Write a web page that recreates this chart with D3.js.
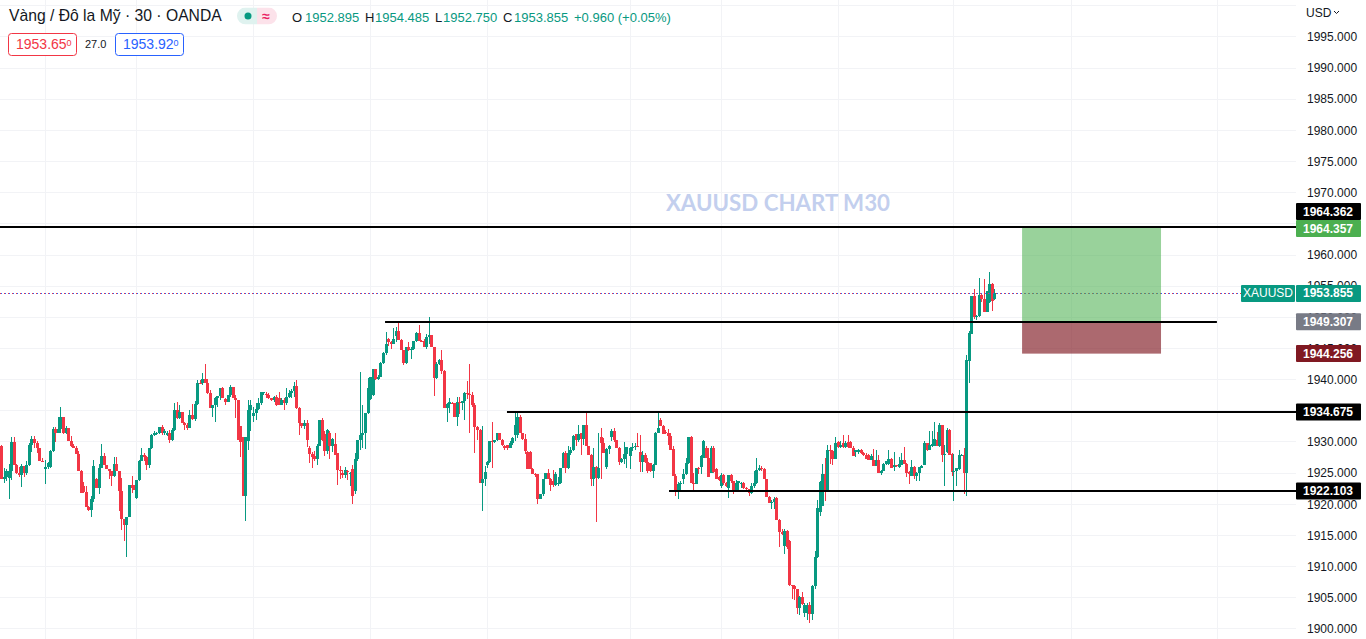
<!DOCTYPE html>
<html>
<head>
    <meta charset="utf-8" />
    <title>XAUUSD chart M30</title>
    <script src="https://cdn.jsdelivr.net/npm/d3@7"></script>
    <style>
        html, body { margin: 0; padding: 0; background: #fff; overflow: hidden; }
        svg { display: block; font-family: "Liberation Sans", Arial, sans-serif; }
    </style>
</head>
<body>
<script>
// bars are [open, high, low, close], one array for each session between two vertical grid lines
var sessionA = [
[1929.2,1929.4,1924.0,1924.0],[1924.0,1925.8,1923.4,1924.3],[1924.3,1925.6,1923.6,1925.2],[1924.2,1926.4,1920.8,1925.2],[1925.2,1930.7,1923.8,1929.9],
[1929.9,1930.7,1926.2,1926.2],[1926.2,1926.4,1924.8,1925.0],[1925.0,1925.9,1924.3,1924.6],[1924.6,1926.4,1922.7,1926.0],[1926.0,1926.0,1924.3,1924.9],
[1924.9,1926.9,1924.6,1926.2],[1926.2,1929.7,1926.0,1929.4],[1929.4,1930.8,1928.3,1930.4],[1930.4,1930.9,1929.0,1929.7],[1929.7,1930.1,1928.1,1928.9],
[1928.9,1928.9,1926.8,1926.8],[1926.8,1927.4,1926.7,1926.7]];
var sessionB = [
[1925.6,1927.1,1923.2,1925.9],[1925.9,1926.7,1925.6,1926.6],[1925.9,1928.6,1925.7,1928.4],[1928.4,1932.3,1928.3,1932.0],[1932.0,1932.3,1929.9,1931.3],[1931.3,1934.0,1931.3,1932.0],
[1932.0,1935.5,1931.3,1933.9],[1933.9,1933.9,1931.2,1931.3],[1931.3,1932.4,1931.2,1932.1],[1932.1,1932.1,1930.1,1930.1],[1930.1,1930.8,1929.1,1929.2],
[1929.2,1929.6,1928.9,1929.0],[1929.0,1929.3,1928.0,1928.0],[1928.0,1928.4,1925.2,1925.2],[1925.2,1925.4,1921.8,1921.8],[1922.9,1923.5,1921.7,1921.9],
[1921.9,1922.8,1919.5,1919.5],[1919.5,1919.7,1918.8,1919.0],[1919.0,1921.2,1917.9,1920.8],[1920.8,1927.0,1920.3,1926.1],[1924.0,1924.2,1922.6,1922.6],
[1922.6,1926.4,1921.6,1925.8],[1925.8,1929.6,1925.7,1927.7],[1927.7,1928.1,1926.2,1926.2],[1926.2,1926.2,1925.5,1925.5],[1925.5,1925.6,1924.0,1925.3],
[1925.3,1925.3,1922.8,1924.4],[1924.4,1927.5,1924.3,1926.4],[1926.4,1927.5,1925.2,1925.2],[1925.2,1925.2,1918.8,1922.1],[1922.1,1924.1,1915.8,1917.5],
[1917.5,1917.6,1914.1,1916.6],[1916.6,1917.8,1911.5,1917.8],[1917.8,1923.0,1917.8,1923.0],[1923.0,1924.4,1921.7,1922.5],[1922.5,1923.0,1922.2,1922.2]];
var sessionC = [
[1920.9,1923.8,1920.8,1923.8],[1923.8,1927.1,1923.6,1926.9],[1926.9,1928.9,1926.8,1927.8],[1927.8,1928.2,1926.8,1927.5],[1927.5,1927.7,1925.4,1926.2],
[1926.2,1928.9,1925.7,1928.9],[1928.9,1931.2,1928.8,1931.0],[1931.0,1931.7,1930.9,1931.3],[1931.3,1931.5,1931.1,1931.4],[1931.4,1932.3,1931.2,1932.3],
[1932.3,1932.7,1931.0,1931.3],[1931.3,1932.0,1931.1,1931.6],[1931.1,1931.6,1930.8,1931.3],[1931.3,1931.8,1929.8,1930.2],[1930.2,1932.1,1930.0,1931.8],
[1931.8,1936.1,1931.6,1935.0],[1935.0,1936.4,1933.6,1933.7],[1933.7,1935.9,1933.6,1934.7],[1934.7,1934.7,1932.9,1933.0],[1933.0,1933.1,1931.8,1932.6],
[1932.6,1933.0,1931.9,1932.2],[1932.2,1935.1,1932.1,1934.2],[1934.2,1936.0,1933.5,1933.6],[1933.6,1936.5,1933.3,1936.0],[1936.0,1939.8,1935.8,1939.4],
[1939.4,1939.8,1939.3,1939.3],[1939.3,1941.0,1939.1,1940.1],[1940.1,1942.5,1939.3,1939.4],[1939.4,1940.0,1937.6,1937.7],[1937.7,1938.2,1935.4,1935.4],
[1935.4,1935.9,1933.9,1935.8],[1935.8,1937.1,1933.2,1937.0],[1937.0,1937.3,1935.5,1937.3],[1937.3,1938.5,1936.6,1938.6],[1938.6,1938.7,1936.9,1936.9],
[1936.8,1937.0,1935.8,1936.3],[1936.3,1937.4,1936.3,1937.4],[1937.4,1939.0,1937.2,1938.7],[1938.7,1938.7,1936.9,1936.9],[1936.9,1937.5,1933.8,1936.6],
[1936.6,1936.7,1930.3,1930.3],[1932.4,1932.4,1927.5,1929.9],[1930.7,1930.7,1921.3,1921.3],[1921.3,1930.7,1917.2,1930.7],[1930.0,1936.6,1928.6,1935.0],
[1935.0,1936.6,1931.6,1935.8]];
var sessionD = [
[1934.1,1935.6,1933.2,1934.6],[1934.6,1936.1,1933.4,1935.2],[1935.2,1936.9,1935.0,1936.1],[1936.1,1937.7,1935.8,1937.9],[1937.9,1938.0,1937.4,1938.0],
[1937.6,1938.0,1936.9,1937.5],[1937.5,1937.7,1936.8,1936.9],[1936.9,1937.0,1936.5,1936.7],[1936.7,1937.3,1936.4,1937.2],[1937.2,1937.5,1935.7,1935.9],
[1936.9,1938.0,1935.8,1935.9],[1935.9,1937.0,1935.8,1936.6],[1936.6,1936.9,1935.0,1936.1],[1936.1,1938.5,1935.8,1937.2],[1937.2,1938.2,1936.9,1937.7],
[1937.7,1938.4,1936.9,1938.1],[1938.1,1939.5,1937.2,1938.9],[1938.9,1939.8,1935.2,1935.4],[1935.4,1935.6,1931.1,1932.9],[1932.9,1933.0,1932.2,1932.4],
[1932.4,1933.4,1932.0,1932.9],[1932.9,1933.4,1929.1,1930.3],[1929.0,1929.3,1926.5,1928.0],[1928.0,1928.3,1925.7,1927.5],[1927.6,1928.4,1926.9,1927.2],
[1927.2,1929.6,1926.3,1929.3],[1929.3,1933.4,1929.2,1933.4],[1933.4,1933.8,1930.1,1930.2],[1931.2,1931.7,1927.6,1928.5],[1928.4,1932.0,1928.0,1931.8],
[1931.3,1931.6,1927.2,1929.2],[1929.2,1930.5,1928.3,1930.4],[1929.6,1931.3,1927.8,1927.9],[1928.1,1928.2,1923.0,1925.4],[1925.4,1926.0,1924.0,1925.3],
[1925.0,1925.4,1924.2,1924.6],[1924.6,1925.9,1924.2,1925.4],[1925.2,1925.4,1923.8,1925.1],[1924.9,1925.1,1922.8,1924.9],[1925.5,1926.3,1920.0,1921.2],
[1922.1,1928.2,1921.5,1927.2],[1927.2,1930.3,1926.9,1930.3],[1930.3,1941.1,1928.6,1931.0],[1931.0,1935.9,1929.0,1931.4],[1931.4,1934.5,1928.8,1934.5],
[1934.5,1940.2,1934.4,1938.6]];
var sessionE = [
[1936.8,1938.5,1936.6,1940.3],[1937.5,1941.6,1937.3,1941.6],[1941.6,1941.7,1939.9,1940.1],[1940.1,1940.7,1939.8,1940.4],[1940.4,1942.7,1940.3,1942.6],
[1942.6,1944.4,1942.5,1944.2],[1944.2,1947.5,1943.9,1945.7],[1946.5,1946.6,1945.3,1946.0],[1946.0,1946.2,1944.9,1945.7],[1945.7,1948.2,1945.6,1946.5],
[1946.9,1948.4,1946.0,1947.8],[1947.8,1949.4,1946.3,1946.3],[1946.3,1946.4,1944.7,1944.7],[1944.7,1944.7,1942.2,1942.6],[1942.6,1945.2,1942.4,1945.1],
[1945.1,1945.9,1944.5,1944.6],[1944.6,1945.2,1943.2,1944.8],[1944.8,1946.1,1944.7,1946.1],[1946.1,1947.6,1946.0,1947.4],[1947.4,1948.7,1946.1,1946.2],
[1946.2,1946.3,1946.0,1946.1],[1946.1,1946.4,1945.1,1945.2],[1945.2,1947.2,1944.8,1946.8],[1946.8,1949.9,1945.7,1947.1],[1947.1,1947.1,1945.2,1945.2],
[1945.2,1945.2,1937.3,1940.2],[1940.2,1942.7,1940.1,1942.4],[1942.4,1943.3,1942.3,1943.0],[1943.0,1944.7,1940.8,1941.3],[1941.3,1941.4,1935.3,1935.3],
[1935.3,1936.2,1933.1,1936.0],[1936.0,1937.0,1934.5,1936.3],[1936.2,1936.3,1936.0,1936.1],[1936.1,1936.2,1933.9,1934.0],
[1934.0,1937.2,1932.5,1936.3],[1936.3,1937.1,1934.4,1936.1],[1936.1,1936.5,1935.1,1936.5],[1936.5,1938.0,1933.4,1937.8],[1937.8,1939.7,1936.8,1937.6],
[1937.6,1942.4,1931.3,1937.4],[1937.4,1938.0,1935.5,1935.9],[1935.9,1936.2,1928.2,1932.3],[1932.3,1932.5,1930.3,1931.8],[1931.8,1932.0,1923.4,1923.3],
[1923.3,1932.4,1918.9,1924.0],[1924.0,1926.0,1922.9,1925.1]];
var sessionF = [
[1926.3,1926.8,1925.7,1926.7],[1926.7,1930.0,1926.5,1930.0],[1930.0,1933.1,1925.8,1929.9],[1929.9,1930.3,1929.7,1930.3],[1930.3,1931.3,1930.1,1931.3],
[1931.3,1931.4,1930.3,1930.3],[1930.3,1930.4,1929.2,1929.4],[1929.3,1929.5,1928.6,1929.0],[1929.4,1929.5,1928.6,1928.9],[1929.0,1930.0,1928.9,1929.7],[1929.8,1930.7,1929.5,1930.6],
[1931.0,1934.6,1930.0,1932.6],[1931.1,1934.6,1930.6,1934.0],[1934.0,1934.3,1931.3,1931.3],[1931.3,1931.4,1930.3,1930.4],[1930.4,1931.2,1928.0,1928.5],
[1928.3,1928.4,1925.6,1925.6],[1928.3,1928.4,1925.5,1925.6],[1925.6,1925.7,1924.8,1924.8],[1924.8,1925.0,1924.3,1924.6],[1924.7,1924.8,1920.0,1920.8],
[1920.8,1921.0,1920.7,1921.5],[1921.5,1924.0,1921.3,1924.0],[1924.0,1925.0,1923.9,1924.9],[1924.9,1925.6,1923.9,1924.0],[1924.0,1924.1,1922.1,1923.0],
[1923.6,1925.4,1922.7,1923.0],[1923.0,1925.1,1922.9,1924.7],[1923.3,1924.3,1922.9,1923.4],[1923.4,1925.8,1923.2,1925.8],[1925.8,1928.3,1925.7,1928.2],
[1928.2,1928.5,1925.0,1925.7],[1925.7,1929.2,1925.6,1928.2],[1928.2,1929.1,1927.8,1928.6],[1928.6,1931.1,1928.5,1930.9],[1931.2,1931.2,1929.3,1930.2],
[1930.2,1932.6,1929.9,1931.2],[1931.3,1931.4,1927.8,1930.4],[1930.4,1932.6,1929.4,1932.6],[1932.6,1934.9,1929.4,1929.2],[1929.2,1929.3,1927.9,1927.9],
[1927.9,1928.0,1922.8,1923.9],[1923.9,1928.9,1922.9,1925.9],[1925.9,1926.0,1917.0,1924.2],[1924.2,1931.3,1923.9,1925.8],[1930.7,1932.2,1924.0,1929.8],
[1929.8,1930.6,1929.0,1928.2],[1925.9,1928.9,1925.6,1928.8],[1928.8,1929.4,1928.0,1929.2],[1930.7,1932.0,1930.0,1931.6],
[1931.6,1932.1,1929.9,1930.2],[1930.2,1930.3,1928.9,1929.0],[1929.0,1929.1,1926.2,1926.7],[1926.7,1927.3,1926.5,1927.2],[1927.2,1929.9,1926.4,1928.0],
[1928.0,1929.1,1925.8,1929.1]];
var sessionG = [
[1927.7,1929.1,1925.6,1928.9],[1928.9,1929.7,1928.4,1929.1],[1929.1,1929.8,1928.7,1929.3],[1929.3,1931.4,1929.1,1929.2],[1928.3,1931.1,1925.1,1926.7],
[1926.7,1928.4,1925.1,1927.8],[1927.8,1928.1,1926.6,1926.7],[1926.7,1927.3,1925.0,1925.2],[1926.5,1926.6,1925.1,1925.2],[1925.2,1926.4,1924.2,1926.3],
[1926.3,1931.5,1926.2,1931.4],[1931.4,1934.8,1931.3,1932.1],[1933.4,1933.7,1932.4,1932.5],[1932.5,1932.6,1931.2,1931.2],[1931.5,1931.9,1931.2,1931.3],
[1931.4,1932.0,1929.5,1930.8],[1930.9,1931.3,1928.6,1928.7],[1928.8,1929.3,1924.5,1924.5],[1924.5,1924.7,1921.3,1921.9],[1921.9,1923.5,1920.8,1923.2],
[1923.2,1923.6,1921.9,1923.3],[1924.0,1925.5,1923.2,1924.7],[1924.7,1927.4,1924.6,1926.5],[1926.5,1930.7,1926.4,1930.7],[1930.7,1930.8,1923.3,1923.4],
[1923.4,1925.0,1922.1,1923.2],[1923.2,1925.8,1923.1,1925.8],[1925.8,1925.9,1924.8,1925.6],[1925.9,1927.8,1924.7,1927.6],[1927.4,1930.3,1927.3,1930.0],
[1929.0,1929.2,1927.3,1927.4],[1927.4,1929.0,1924.3,1924.3],[1925.0,1929.2,1924.9,1929.0],[1928.9,1929.2,1925.0,1925.1],[1925.6,1925.8,1923.9,1923.9],
[1924.3,1924.5,1923.7,1923.8]];
var sessionH = [
[1922.9,1925.0,1922.6,1924.6],[1924.6,1924.7,1923.0,1923.4],[1923.4,1923.5,1922.7,1922.8],[1922.6,1924.4,1921.0,1924.6],[1924.6,1924.7,1923.3,1923.6],
[1923.6,1923.7,1921.5,1922.2],[1922.2,1923.8,1922.0,1923.4],[1923.4,1923.7,1922.0,1923.7],[1923.1,1923.5,1922.5,1923.4],[1923.4,1923.5,1922.4,1922.6],
[1922.6,1922.7,1922.2,1922.3],[1922.3,1922.4,1921.2,1921.8],[1921.8,1923.4,1921.5,1922.8],[1922.8,1925.2,1922.6,1923.3],[1923.3,1927.4,1923.2,1925.4],
[1925.4,1926.2,1925.2,1925.8],[1925.8,1926.1,1925.2,1925.6],[1925.6,1925.8,1923.9,1923.9],[1923.9,1924.0,1921.1,1921.1],[1921.1,1921.2,1920.1,1920.1],
[1920.1,1920.6,1919.2,1920.3],[1920.3,1921.1,1919.1,1920.7],[1920.9,1921.1,1917.4,1917.4],[1917.4,1917.5,1913.0,1915.4],[1915.4,1915.9,1915.0,1915.2],
[1913.2,1916.0,1912.0,1915.6],[1915.7,1915.8,1912.8,1913.1],[1914.1,1914.2,1906.8,1906.9],[1906.9,1907.0,1904.7,1906.8],[1906.8,1906.9,1904.5,1906.3],
[1906.3,1906.4,1902.3,1903.2],[1903.2,1905.2,1902.1,1905.0],[1905.0,1905.8,1903.8,1903.9],[1902.4,1904.0,1901.9,1903.8],[1902.4,1904.0,1901.4,1903.8],
[1903.8,1904.2,1900.8,1902.3],[1902.3,1907.0,1901.4,1906.8],[1906.8,1912.5,1906.4,1911.5],[1911.5,1920.6,1911.3,1919.3],[1918.6,1923.6,1918.0,1923.5],
[1919.7,1926.4,1919.6,1924.7],[1924.7,1927.4,1920.5,1922.1],[1922.1,1929.4,1922.0,1928.6],[1928.6,1929.5,1926.4,1928.5],[1928.5,1928.7,1926.3,1927.2],
[1927.2,1930.7,1927.2,1929.8]];
var sessionI = [
[1929.9,1930.0,1929.0,1929.1],[1929.1,1930.0,1929.0,1929.4],[1929.7,1931.1,1929.0,1929.1],[1929.1,1930.0,1928.9,1929.8],[1929.9,1931.0,1928.9,1929.1],
[1929.9,1930.0,1928.9,1928.9],[1928.9,1929.2,1927.6,1927.6],[1928.3,1928.7,1927.5,1928.6],[1928.3,1928.8,1928.0,1928.6],[1928.6,1928.8,1928.0,1928.2],
[1928.2,1928.3,1927.6,1927.8],[1927.9,1928.1,1927.2,1927.2],[1927.8,1928.0,1927.0,1927.0],[1927.1,1928.0,1927.0,1927.6],[1927.1,1928.8,1926.1,1926.1],
[1926.1,1928.6,1926.0,1927.1],[1927.1,1927.8,1925.0,1925.0],[1925.0,1925.4,1924.6,1925.3],[1925.3,1926.5,1925.2,1926.4],[1926.4,1926.9,1926.3,1926.8],
[1926.4,1928.6,1926.3,1927.2],[1927.2,1927.4,1925.7,1925.7],[1925.9,1928.3,1925.2,1926.2],[1926.2,1926.3,1925.9,1926.0],[1925.9,1927.5,1925.8,1926.4],
[1926.3,1928.2,1926.2,1927.0],[1927.0,1929.1,1926.4,1926.4],[1926.4,1926.5,1924.3,1925.0],[1925.1,1925.2,1923.2,1924.8],[1924.5,1927.1,1924.4,1925.9],
[1925.9,1926.0,1924.0,1924.5],[1924.5,1925.1,1923.6,1925.0],[1925.0,1925.9,1923.7,1925.9],[1925.8,1926.2,1925.7,1926.1],[1926.3,1930.1,1926.2,1929.7],
[1929.7,1929.8,1928.5,1928.7],[1928.7,1931.7,1928.6,1929.4],[1929.2,1931.7,1929.1,1929.6],[1929.3,1933.2,1929.2,1930.4],[1930.3,1931.5,1929.2,1929.2],
[1929.2,1933.0,1929.1,1932.6],[1932.6,1932.7,1926.7,1927.9],[1927.9,1929.4,1922.8,1928.0],[1928.3,1932.2,1928.2,1931.9],[1931.9,1932.0,1927.9,1927.9],
[1928.0,1928.1,1924.4,1925.1]];
var sessionJ = [
[1925.1,1928.0,1920.5,1925.3],[1925.3,1925.8,1922.9,1925.8],[1925.5,1928.7,1925.4,1927.8],[1927.8,1928.0,1927.7,1927.9],[1927.9,1928.9,1921.6,1925.0],
[1925.0,1943.9,1921.3,1943.0],[1942.9,1947.8,1939.3,1947.4],[1947.3,1953.4,1947.2,1953.4],[1953.4,1954.5,1949.7,1950.0],[1950.0,1950.3,1949.5,1950.1],
[1950.1,1956.2,1950.0,1953.5],[1953.5,1953.6,1952.4,1952.8],[1952.8,1956.0,1950.7,1950.8],[1950.8,1954.2,1950.7,1954.2],[1952.3,1957.2,1952.2,1955.3],
[1955.3,1955.4,1950.9,1952.5],[1952.895,1954.485,1952.75,1953.855]];

var sessions = [sessionA, sessionB, sessionC, sessionD, sessionE, sessionF, sessionG, sessionH, sessionI, sessionJ];
var sessionStarts = [0, 17.4, 53.2, 99.3, 145.4, 191.2, 247.5, 283.3, 329.4, 375];
var futureBreaks = [421.1, 478.7];

var priceTicks = [1900, 1905, 1910, 1915, 1920, 1925, 1930, 1940, 1945, 1950, 1955, 1960, 1970, 1975, 1980, 1985, 1990, 1995];
var gridPrices = d3.range(1900, 2001, 5);
var lastPrice = 1953.855;
var askText = "1953.65", bidText = "1953.92", spreadText = "27.0";

// drawn levels: price, first bar and last bar (null = runs to the price scale)
var levelPrices = [1964.362, 1949.307, 1934.675, 1922.103];
var levelFrom = [null, 151.2, 199.2, 263];
var levelTo = [null, 478.7, null, null];
var levelColors = ["#000000", "#787b86", "#000000", "#000000"];
var levelNudge = [0, 1, 0, 0];
var levelLabelShift = [-15.8, 0.5, -0.4, 0.3];
var positionBars = [402, 456.7];
var targetPrice = 1964.357, entryPrice = 1949.307, stopPrice = 1944.256;

var width = 1366, height = 639, scaleLeft = 1296;
var upColor = "#089981", downColor = "#f23645";

var x = d3.scaleLinear().domain([0, 391]).range([1, 1 + 391 * 2.54]);
var y = d3.scaleLinear().domain([1900, 1995]).range([628.4, 36.4]);

var svg = d3.select("body").append("svg").attr("width", width).attr("height", height);

// grid
svg.append("g").selectAll("line").data(gridPrices).enter().append("line")
    .attr("x1", 0).attr("x2", scaleLeft)
    .attr("y1", function(d){ return Math.round(y(d)) + 0.5; })
    .attr("y2", function(d){ return Math.round(y(d)) + 0.5; })
    .attr("stroke", "#f2f3f6");
svg.append("g").selectAll("line").data(sessionStarts.slice(1).concat(futureBreaks)).enter().append("line")
    .attr("y1", 0).attr("y2", height)
    .attr("x1", function(d){ return Math.round(x(d)) + 0.5; })
    .attr("x2", function(d){ return Math.round(x(d)) + 0.5; })
    .attr("stroke", "#f2f3f6");

// price axis
var axis = d3.axisRight(y).tickValues(priceTicks).tickSize(0).tickPadding(0)
    .tickFormat(d3.format(".3f"));
var axisG = svg.append("g").attr("transform", "translate(1307,0.4)").call(axis);
axisG.select(".domain").remove();
axisG.selectAll("text").attr("font-size", 12).attr("font-family", "inherit").attr("fill", "#131722");

// watermark
svg.append("text").attr("x", 778).attr("y", 211).attr("text-anchor", "middle")
    .attr("font-family", "Lato, sans-serif").attr("font-weight", 700).attr("font-size", 22.3)
    .attr("fill", "#c3cfee").text("XAUUSD CHART M30");

// candles
var bars = [];
sessions.forEach(function(s, k){
    s.forEach(function(b, j){
        bars.push({i: sessionStarts[k] + j, o: b[0], h: b[1], l: b[2], c: b[3]});
    });
});
var candle = svg.append("g").selectAll("g").data(bars).enter().append("g")
    .attr("fill", function(d){ return d.c >= d.o ? upColor : downColor; })
    .attr("shape-rendering", "crispEdges");
candle.append("rect")
    .attr("x", function(d){ return Math.round(x(d.i)); })
    .attr("width", 1)
    .attr("y", function(d){ return y(Math.max(d.h, d.o, d.c)); })
    .attr("height", function(d){ return y(Math.min(d.l, d.o, d.c)) - y(Math.max(d.h, d.o, d.c)); });
candle.append("rect")
    .attr("x", function(d){ return Math.round(x(d.i)) - 1; })
    .attr("width", 3)
    .attr("y", function(d){ return y(Math.max(d.o, d.c)); })
    .attr("height", function(d){ return Math.max(1, Math.abs(y(d.o) - y(d.c))); });

// last price dotted lines, red dot then blue dot
[["#2962ff", "2 2"], ["#f23645", "1 3"]].forEach(function(p){
    svg.append("line").attr("x1", 0).attr("x2", 1241)
        .attr("y1", Math.round(y(lastPrice)) + 0.5).attr("y2", Math.round(y(lastPrice)) + 0.5)
        .attr("stroke", p[0]).attr("stroke-dasharray", p[1]).attr("shape-rendering", "crispEdges");
});

// long position
svg.append("rect").attr("x", x(positionBars[0])).attr("width", x(positionBars[1]) - x(positionBars[0]))
    .attr("y", y(targetPrice)).attr("height", y(entryPrice) + 1 - y(targetPrice))
    .attr("fill", "#4caf50").attr("fill-opacity", 0.57);
svg.append("rect").attr("x", x(positionBars[0])).attr("width", x(positionBars[1]) - x(positionBars[0]))
    .attr("y", y(entryPrice) + 1).attr("height", y(stopPrice) - y(entryPrice))
    .attr("fill", "#801922").attr("fill-opacity", 0.65);

// levels
svg.append("g").selectAll("line").data(levelPrices).enter().append("line")
    .attr("x1", function(d, i){ return levelFrom[i] === null ? 0 : x(levelFrom[i]); })
    .attr("x2", function(d, i){ return levelTo[i] === null ? scaleLeft : x(levelTo[i]); })
    .attr("y1", function(d, i){ return Math.round(y(d)) + levelNudge[i]; })
    .attr("y2", function(d, i){ return Math.round(y(d)) + levelNudge[i]; })
    .attr("stroke", "#000").attr("stroke-width", 2);

// price scale labels
function priceLabel(price, color, offset) {
    var yy = y(price) + (offset || 0);
    svg.append("rect").attr("x", scaleLeft).attr("width", 65).attr("y", yy - 8.5).attr("height", 17).attr("rx", 1).attr("fill", color);
    svg.append("text").attr("x", 1328).attr("y", yy + 4).attr("text-anchor", "middle")
        .attr("font-size", 12).attr("font-weight", 700).attr("fill", "#fff").text(price.toFixed(3));
}
levelPrices.forEach(function(p, i){ priceLabel(p, levelColors[i], levelLabelShift[i]); });
priceLabel(targetPrice, "#4caf50", 1.2);
priceLabel(stopPrice, "#801922", 1);
priceLabel(lastPrice, upColor, 0.7);
svg.append("rect").attr("x", 1241).attr("width", 54).attr("y", y(lastPrice) - 7.8).attr("height", 17).attr("rx", 1).attr("fill", upColor);
svg.append("text").attr("x", 1268).attr("y", y(lastPrice) + 4.7).attr("text-anchor", "middle")
    .attr("font-size", 12).attr("fill", "#fff").text("XAUUSD");

// currency
svg.append("text").attr("x", 1306).attr("y", 17).attr("font-size", 12).attr("fill", "#131722").text("USD");
svg.append("path").attr("d", d3.line()([[1334, 11], [1336.5, 13.5], [1339, 11]]))
    .attr("fill", "none").attr("stroke", "#131722");

// legend
svg.append("text").attr("x", 9).attr("y", 21).attr("font-size", 15.7).attr("fill", "#131722")
    .text("Vàng / Đô la Mỹ · 30 · OANDA");
svg.append("clipPath").attr("id", "pill").append("rect")
    .attr("x", 237).attr("y", 7.5).attr("width", 40).attr("height", 17).attr("rx", 8.5);
var pill = svg.append("g").attr("clip-path", "url(#pill)");
pill.append("rect").attr("x", 237).attr("y", 7.5).attr("width", 20).attr("height", 17).attr("fill", "#dff2ef");
pill.append("rect").attr("x", 257).attr("y", 7.5).attr("width", 20).attr("height", 17).attr("fill", "#fce2ea");
svg.append("circle").attr("cx", 248).attr("cy", 16).attr("r", 3.5).attr("fill", upColor);
svg.append("text").attr("x", 266).attr("y", 21).attr("text-anchor", "middle").attr("font-size", 14).attr("font-weight", 700)
    .attr("fill", "#e91e63").text("≈");

var ohlcLabels = ["O", "H", "L", "C"];
var ohlcValues = ["1952.895", "1954.485", "1952.750", "1953.855"];
var ohlcX = [292, 365, 435, 503];
var ohlcValueX = [305, 375, 443, 514];
ohlcLabels.forEach(function(l, i){
    svg.append("text").attr("x", ohlcX[i]).attr("y", 22).attr("font-size", 13).attr("fill", "#131722").text(l);
    svg.append("text").attr("x", ohlcValueX[i]).attr("y", 22).attr("font-size", 13).attr("fill", upColor).text(ohlcValues[i]);
});
svg.append("text").attr("x", 574).attr("y", 22).attr("font-size", 13).attr("fill", upColor).text("+0.960 (+0.05%)");

// bid and ask boxes
function quoteBox(xLeft, txt, color) {
    svg.append("rect").attr("x", xLeft + 0.5).attr("y", 33.5).attr("width", 68).attr("height", 22).attr("rx", 3)
        .attr("fill", "#fff").attr("stroke", color);
    var t = svg.append("text").attr("x", xLeft + 8).attr("y", 49).attr("font-size", 14).attr("fill", color);
    t.append("tspan").text(txt);
    t.append("tspan").attr("dy", -3).attr("font-size", 9).text("0");
}
quoteBox(8, askText, "#f23645");
quoteBox(115, bidText, "#2962ff");
svg.append("text").attr("x", 85).attr("y", 48).attr("font-size", 11).attr("fill", "#131722").text(spreadText);
</script>
</body>
</html>
